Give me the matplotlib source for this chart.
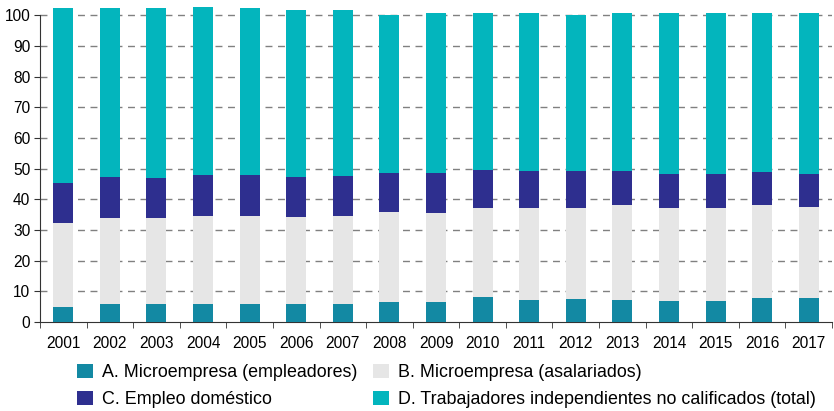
import matplotlib
matplotlib.use("Agg")
import matplotlib.pyplot as plt
import numpy as np

plt.rcParams['font.family'] = ['Liberation Sans', 'DejaVu Sans']

years = [str(y) for y in range(2001, 2018)]

# cumulative tops, converted to segment sizes below
top_a = [4.8, 6.0, 6.0, 5.8, 5.8, 6.0, 6.0, 6.6, 6.6, 8.15, 7.3, 7.5, 7.3, 6.85, 6.85, 7.7, 7.7]
top_b = [32.4, 34.0, 33.8, 34.7, 34.7, 34.2, 34.7, 35.8, 35.5, 37.1, 37.1, 37.1, 38.0, 37.1, 37.1, 38.0, 37.6]
top_c = [45.2, 47.2, 46.8, 47.9, 47.9, 47.2, 47.6, 48.5, 48.6, 49.6, 49.3, 49.2, 49.3, 48.4, 48.4, 48.9, 48.4]
top_d = [102.4, 102.4, 102.4, 102.6, 102.4, 101.8, 101.8, 100.0, 100.6, 100.6, 100.6, 100.1, 100.6, 100.6, 100.6, 100.6, 100.6]

labels = ["A. Microempresa (empleadores)", "B. Microempresa (asalariados)",
          "C. Empleo doméstico", "D. Trabajadores independientes no calificados (total)"]
colors = ["#1389a3", "#e6e6e6", "#2e2f8f", "#03b5bd"]

tops = np.array([top_a, top_b, top_c, top_d])
bottoms = np.vstack([np.zeros(len(years)), tops[:-1]])
heights = tops - bottoms

fig = plt.figure(figsize=(8.34, 4.11), dpi=100)
ax = fig.add_axes([40 / 834, 89 / 411, 792 / 834, 320.5 / 411])

x = np.arange(len(years))
bars = []
for i in range(4):
    b = ax.bar(x, heights[i], bottom=bottoms[i], width=0.43, color=colors[i], zorder=3)
    bars.append(b)

ax.set_xlim(-0.5, len(years) - 0.5)
ax.set_ylim(0, 104.5)
ax.set_yticks(range(0, 101, 10))
ax.set_xticks(x)
ax.set_xticklabels(years)
ax.set_xticks(np.arange(-0.5, len(years), 1), minor=True)
ax.tick_params(axis='x', which='major', length=0, labelsize=11.2, pad=10)
ax.tick_params(axis='x', which='minor', length=4, direction='out', color='#333333')
ax.tick_params(axis='y', length=4, direction='out', labelsize=11.2, color='#333333', pad=3)

for yv in range(10, 101, 10):
    ax.axhline(yv, color='#808080', linestyle=(0, (5, 4)), linewidth=1, zorder=1)

for s in ['top', 'right']:
    ax.spines[s].set_visible(False)
ax.spines['left'].set_bounds(0, 100)
ax.spines['left'].set_color('#333333')
ax.spines['bottom'].set_color('#333333')

order = [0, 2, 1, 3]
fig.legend([bars[i] for i in order], [labels[i] for i in order],
           loc='upper left', bbox_to_anchor=(77 / 834, 1 - 364 / 411), ncol=2,
           frameon=False, fontsize=12.9, handlelength=0.9, handleheight=0.8,
           handletextpad=0.5, columnspacing=0.85, labelspacing=0.55, borderpad=0,
           borderaxespad=0)

fig.savefig("out.png", dpi=100)
